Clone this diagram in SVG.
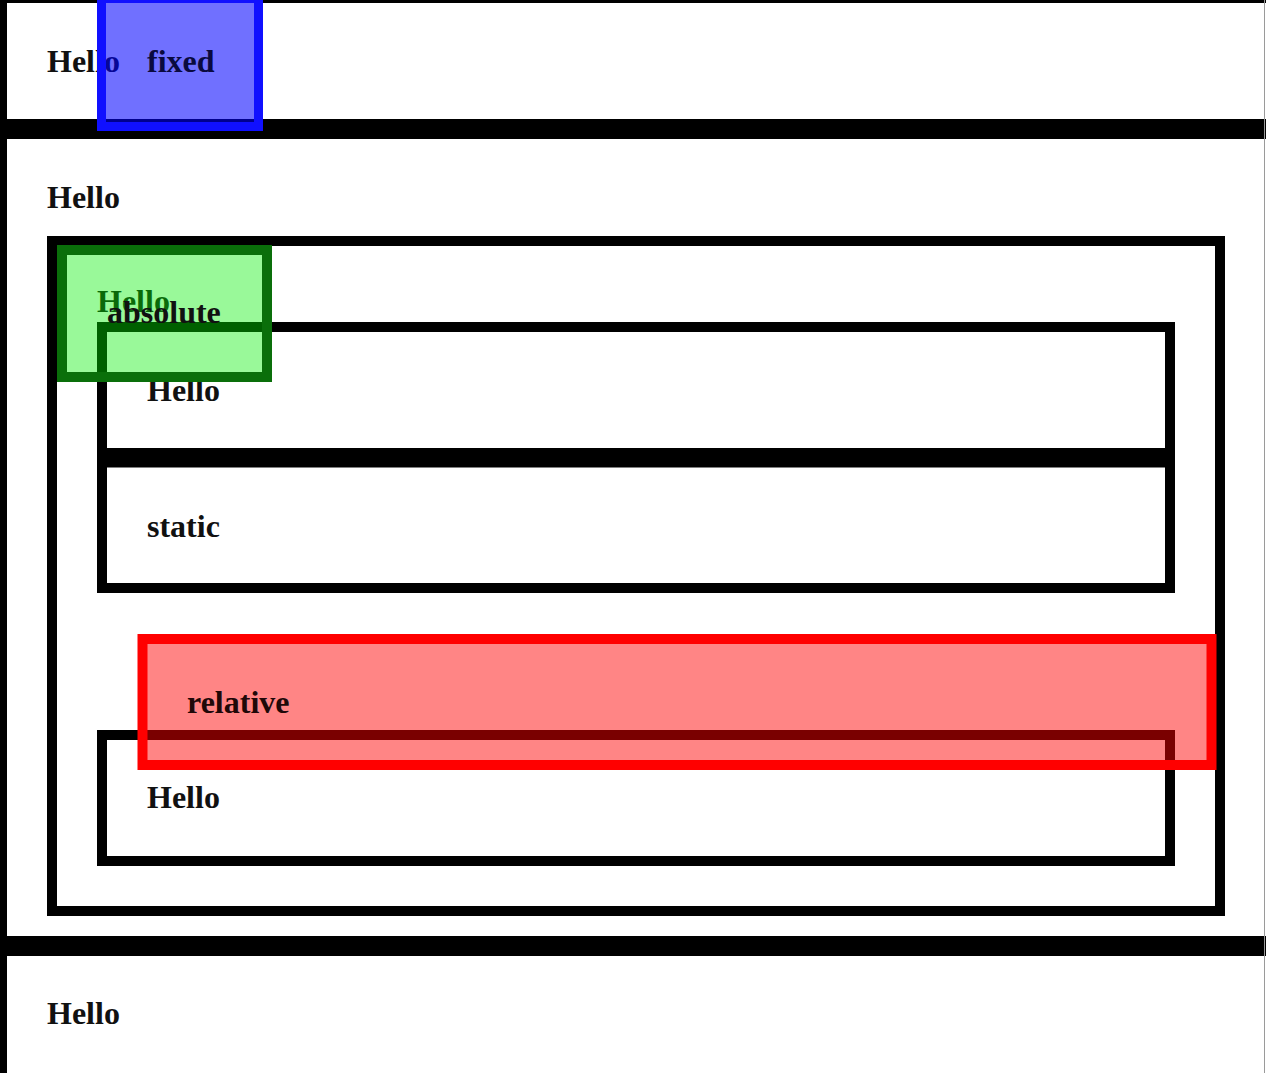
<svg xmlns="http://www.w3.org/2000/svg" width="1266" height="1073" viewBox="0 0 1266 1073">
<style>
.box{fill:none;stroke:#000;stroke-width:10}
.t{font-family:"Liberation Serif","Times New Roman",serif;font-weight:bold;font-size:32px;fill:#111}
</style>
<rect x="0" y="0" width="1266" height="1073" fill="#fff"/>
<g id="section1">
<rect class="box" x="2" y="-2" width="1280" height="126"/>
<text class="t" x="47" y="72">Hello</text>
</g>
<g id="section2">
<rect class="box" x="2" y="134" width="1280" height="807"/>
<text class="t" x="47" y="208">Hello</text>
</g>
<g id="section3">
<rect class="box" x="2" y="951" width="1280" height="140"/>
<text class="t" x="47" y="1024">Hello</text>
</g>
<line x1="1264.5" y1="0" x2="1264.5" y2="1073" stroke="#9a9a9a" stroke-width="1"/>
<g id="container">
<rect class="box" x="52" y="241" width="1168" height="670"/>
<text class="t" x="97" y="312">Hello</text>
</g>
<g id="boxB">
<rect class="box" x="102" y="327" width="1068" height="126"/>
<text class="t" x="147" y="401">Hello</text>
</g>
<g id="static">
<rect class="box" x="102" y="462.5" width="1068" height="125.5"/>
<text class="t" x="147" y="537">static</text>
</g>
<g id="boxD">
<rect class="box" x="102" y="735" width="1068" height="126"/>
<text class="t" x="147" y="808">Hello</text>
</g>
<g id="fixed">
<rect x="101.5" y="-1.5" width="157" height="128" fill="#0000ff" fill-opacity="0.56" stroke="#1010ff" stroke-width="9"/>
<text class="t" x="147" y="72" style="fill:#0a0a40">fixed</text>
</g>
<g id="absolute">
<rect x="62" y="250" width="205" height="127" fill="#00f000" fill-opacity="0.4" stroke="#0a6f0a" stroke-width="10"/>
<text class="t" x="107" y="323">absolute</text>
</g>
<g id="relative">
<rect x="142.5" y="639" width="1069" height="126" fill="#ff0000" fill-opacity="0.48" stroke="#ff0000" stroke-width="10"/>
<text class="t" x="187" y="713" style="fill:#200808">relative</text>
</g>
<g id="connectors"/>
</svg>
